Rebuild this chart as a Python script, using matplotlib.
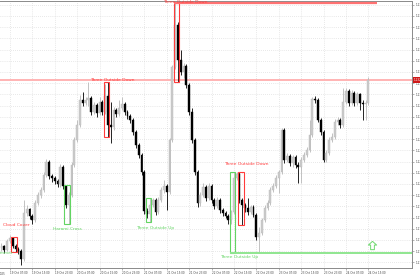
import numpy as np
import pandas as pd
import matplotlib
matplotlib.use("Agg")
import matplotlib.pyplot as plt
from matplotlib.patches import Rectangle

# hourly bars
first_open = 1.1152
closes = [1.1154, 1.1150, 1.1159, 1.1162, 1.1154, 1.1151, 1.1149, 1.1141, 1.1187, 1.1191,
          1.1184, 1.1180, 1.1197, 1.1205, 1.1210, 1.1225, 1.1238, 1.1224, 1.1222, 1.1219,
          1.1216, 1.1233, 1.1214, 1.1195, 1.1205, 1.1235, 1.1260, 1.1275, 1.1300, 1.1297,
          1.1300, 1.1302, 1.1288, 1.1295, 1.1287, 1.1298, 1.1288, 1.1304, 1.1275, 1.1273,
          1.1290, 1.1286, 1.1292, 1.1296, 1.1288, 1.1284, 1.1280, 1.1268, 1.1255, 1.1245,
          1.1228, 1.1189, 1.1186, 1.1195, 1.1200, 1.1188, 1.1200, 1.1210, 1.1214, 1.1208,
          1.1260, 1.1333, 1.1375, 1.1340, 1.1328, 1.1334, 1.1315, 1.1288, 1.1260, 1.1228,
          1.1197, 1.1205, 1.1213, 1.1202, 1.1214, 1.1200, 1.1194, 1.1200, 1.1190, 1.1187,
          1.1184, 1.1180, 1.1188, 1.1222, 1.1226, 1.1200, 1.1195, 1.1192, 1.1188, 1.1193,
          1.1185, 1.1163, 1.1167, 1.1180, 1.1192, 1.1197, 1.1210, 1.1214, 1.1222, 1.1228,
          1.1270, 1.1240, 1.1244, 1.1237, 1.1243, 1.1235, 1.1233, 1.1240, 1.1245, 1.1250,
          1.1265, 1.1301, 1.1300, 1.1280, 1.1268, 1.1240, 1.1247, 1.1260, 1.1263, 1.1278,
          1.1280, 1.1275, 1.1298, 1.1309, 1.1297, 1.1307, 1.1297, 1.1306, 1.1297, 1.1296,
          1.1297, 1.1320]
highs = [1.1157, 1.1155, 1.1161, 1.1165, 1.1163, 1.1156, 1.1153, 1.1151, 1.1200, 1.1195,
         1.1192, 1.1186, 1.1200, 1.1208, 1.1213, 1.1228, 1.1241, 1.1240, 1.1226, 1.1224,
         1.1221, 1.1236, 1.1235, 1.1215, 1.1208, 1.1238, 1.1263, 1.1280, 1.1305, 1.1308,
         1.1303, 1.1318, 1.1304, 1.1298, 1.1297, 1.1303, 1.1300, 1.1316, 1.1318, 1.1298,
         1.1293, 1.1292, 1.1300, 1.1303, 1.1298, 1.1290, 1.1286, 1.1282, 1.1270, 1.1257,
         1.1247, 1.1230, 1.1192, 1.1202, 1.1202, 1.1202, 1.1203, 1.1213, 1.1220, 1.1216,
         1.1262, 1.1335, 1.1397, 1.1378, 1.1350, 1.1337, 1.1336, 1.1317, 1.1292, 1.1262,
         1.1230, 1.1208, 1.1217, 1.1215, 1.1217, 1.1216, 1.1202, 1.1203, 1.1202, 1.1192,
         1.1189, 1.1186, 1.1190, 1.1228, 1.1228, 1.1228, 1.1202, 1.1197, 1.1202, 1.1195,
         1.1195, 1.1187, 1.1173, 1.1182, 1.1195, 1.1200, 1.1213, 1.1217, 1.1225, 1.1230,
         1.1272, 1.1272, 1.1247, 1.1246, 1.1245, 1.1245, 1.1238, 1.1243, 1.1248, 1.1253,
         1.1280, 1.1303, 1.1304, 1.1302, 1.1282, 1.1270, 1.1250, 1.1263, 1.1267, 1.1281,
         1.1283, 1.1282, 1.1312, 1.1312, 1.1311, 1.1310, 1.1309, 1.1308, 1.1307, 1.1300,
         1.1300, 1.1323]
lows = [1.1149, 1.1147, 1.1149, 1.1157, 1.1152, 1.1148, 1.1146, 1.1135, 1.1139, 1.1184,
        1.1181, 1.1176, 1.1178, 1.1195, 1.1202, 1.1208, 1.1223, 1.1221, 1.1218, 1.1216,
        1.1213, 1.1213, 1.1211, 1.1192, 1.1176, 1.1203, 1.1233, 1.1258, 1.1273, 1.1294,
        1.1295, 1.1294, 1.1285, 1.1286, 1.1283, 1.1285, 1.1285, 1.1286, 1.1263, 1.1257,
        1.1270, 1.1283, 1.1284, 1.1290, 1.1285, 1.1281, 1.1277, 1.1265, 1.1252, 1.1242,
        1.1225, 1.1186, 1.1182, 1.1178, 1.1193, 1.1185, 1.1186, 1.1198, 1.1207, 1.1190,
        1.1206, 1.1258, 1.1331, 1.1318, 1.1325, 1.1322, 1.1312, 1.1285, 1.1257, 1.1225,
        1.1193, 1.1194, 1.1203, 1.1199, 1.1200, 1.1197, 1.1191, 1.1192, 1.1187, 1.1184,
        1.1182, 1.1176, 1.1176, 1.1186, 1.1220, 1.1197, 1.1175, 1.1188, 1.1185, 1.1186,
        1.1183, 1.1160, 1.1147, 1.1165, 1.1178, 1.1190, 1.1195, 1.1208, 1.1212, 1.1207,
        1.1226, 1.1237, 1.1238, 1.1234, 1.1233, 1.1232, 1.1217, 1.1217, 1.1238, 1.1243,
        1.1248, 1.1263, 1.1297, 1.1278, 1.1265, 1.1238, 1.1238, 1.1245, 1.1258, 1.1261,
        1.1275, 1.1272, 1.1273, 1.1296, 1.1294, 1.1295, 1.1294, 1.1295, 1.1290, 1.1280,
        1.1280, 1.1295]
opens = [first_open] + closes[:-1]
times = pd.date_range("2025-10-19 04:00", periods=len(closes), freq="h")

# candle patterns found (first bar, last bar)
pat_names = ["Cloud Cover", "Harami Cross", "Three Outside Down", "Three Outside Up",
             "Three Outside Down", "Three Outside Up", "Three Outside Down"]
pat_start = [4, 23, 37, 52, 62, 82, 85]
pat_end = [5, 24, 38, 53, 63, 83, 86]
pat_bull = [False, True, False, True, False, True, False]

RED = "#ff3b3b"
GREEN = "#62d462"

def px_x(px):
    return (px - 1.5) / 2.8

def px_y(py):
    return 1.14 - py / 10000.0

fig = plt.figure(figsize=(4.2, 2.8), dpi=100)
ax = fig.add_axes([0, 12 / 280, 412 / 420, 267 / 280])
ax.set_xlim(px_x(0), px_x(412))
ax.set_ylim(px_y(268), px_y(1))

# grid / axes
n = len(closes)
xt = list(range(3, n, 8))
ax.set_xticks(xt)
ax.set_xticklabels([times[i].strftime("%d %b %H:%M") for i in xt])
for lab in ax.get_xticklabels():
    lab.set_horizontalalignment("left")
yt = 1.13953 - 0.00112 * np.arange(24)
ax.yaxis.tick_right()
ax.set_yticks(yt)
ax.set_yticklabels(["%.5f" % v for v in yt])
ax.tick_params(labelsize=2, pad=1, length=1.5, width=0.4, color="#777777", labelcolor="#444444")
ax.grid(True, color="#d2d2d2", linestyle=(0, (1, 2)), linewidth=0.5)
ax.set_axisbelow(True)
ax.spines["left"].set_visible(False)
for s in ["top", "right", "bottom"]:
    ax.spines[s].set_color("#8a8a8a")
    ax.spines[s].set_linewidth(0.7)

# bid line
ax.axhline(closes[-1], color="#ffb3b3", lw=1.4, zorder=1)
ax.text(1.004, closes[-1], "%.5f" % closes[-1], transform=ax.get_yaxis_transform(),
        fontsize=2, color="white", va="center", ha="left", clip_on=False,
        bbox=dict(facecolor="#d01818", edgecolor="none", pad=0.8))

# candles
for i in range(n):
    o, c = opens[i], closes[i]
    bull = c >= o
    col = "#b8b8b8" if bull else "black"
    ax.vlines(i, lows[i], highs[i], color=col, lw=0.6, zorder=3)
    ax.bar(i, c - o, bottom=o, width=0.7, color="#cccccc" if bull else "black",
           edgecolor=col, linewidth=0.3, zorder=4)

# pattern boxes
support = min(lows[pat_start[5]:])
resist = highs[pat_start[4]]
for k in range(len(pat_names)):
    a, b = pat_start[k], pat_end[k]
    hi = max(highs[a:b + 1])
    lo = min(lows[a:b + 1])
    col = GREEN if pat_bull[k] else RED
    if k == 5:
        lo = support
    ax.add_patch(Rectangle((a - 0.5, lo), b - a + 1, hi - lo, fill=False,
                           edgecolor=col, lw=0.8, zorder=5))
ax.hlines(resist, pat_start[4] - 0.5, px_x(377), color="#ff7272", lw=1.6, zorder=5)
ax.hlines(support, pat_start[5] - 0.5, px_x(412), color="#8fe68f", lw=1.4, zorder=5)

# labels (left edge px, centre y px)
lab_x = [2.7, 53, 90, 136, 163, 220, 224]
lab_y = [225, 229, 80, 228, 2, 257, 164]
for k in range(len(pat_names)):
    col = GREEN if pat_bull[k] else RED
    ax.text(px_x(lab_x[k]), px_y(lab_y[k]), pat_names[k], color=col, fontsize=3.2,
            ha="left", va="center", clip_on=False, zorder=6)
ax.text(px_x(13), px_y(253), "Hammer", color=GREEN, fontsize=3.2, ha="right",
        va="center", clip_on=False, zorder=6)

# hollow up arrow (buy signal)
arrow = [(0, 1), (1, 0.1), (0.45, 0.1), (0.45, -1), (-0.45, -1), (-0.45, 0.1), (-1, 0.1), (0, 1)]
ax.plot([px_x(372)], [px_y(245)], marker=arrow, markersize=6, markerfacecolor="white",
        markeredgecolor="#70d870", markeredgewidth=0.7, zorder=6)
fig.text(5 / 420, 1 - 274 / 280, "19 Oct 2025", fontsize=2, color="#444444",
         ha="right", va="center")

fig.savefig("out.png", dpi=100)
